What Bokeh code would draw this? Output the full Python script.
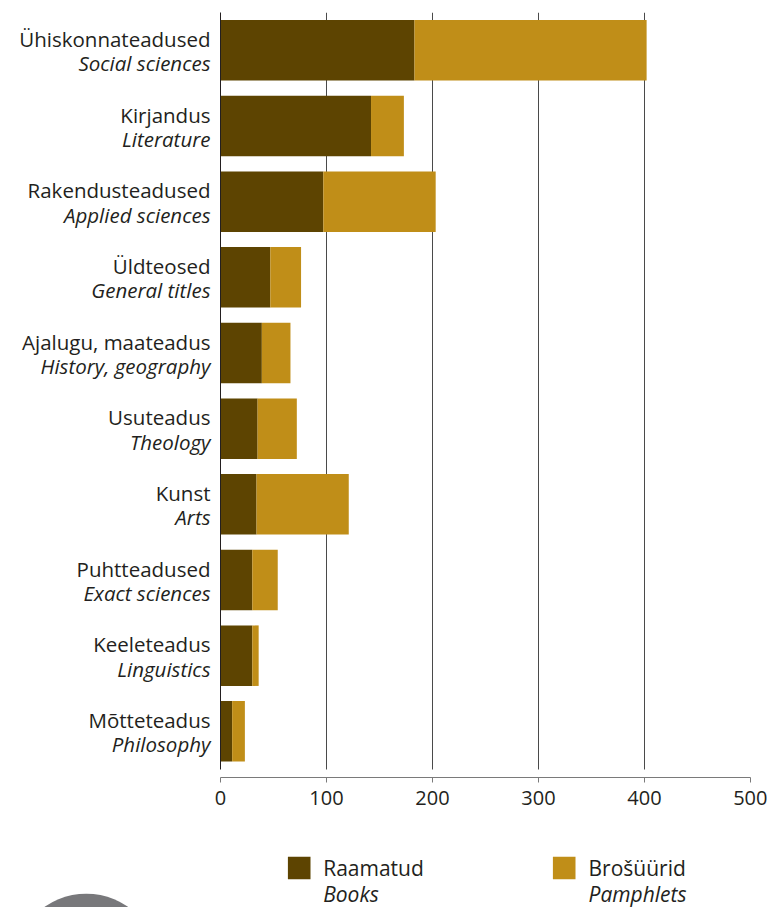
from bokeh.plotting import figure
from bokeh.models import ColumnDataSource, Range1d, FixedTicker
from bokeh.layouts import column, row
from bokeh.core.properties import value
from bokeh.embed import file_html
from bokeh.resources import INLINE

# ---- data ----
cats_et = ["Ühiskonnateadused", "Kirjandus", "Rakendusteadused", "Üldteosed",
           "Ajalugu, maateadus", "Usuteadus", "Kunst", "Puhtteadused",
           "Keeleteadus", "Mõtteteadus"]
cats_en = ["Social sciences", "Literature", "Applied sciences", "General titles",
           "History, geography", "Theology", "Arts", "Exact sciences",
           "Linguistics", "Philosophy"]
books = [183, 142, 97, 47, 39, 35, 34, 30, 30, 11]
pamphlets = [219, 31, 106, 29, 27, 37, 87, 24, 6, 12]
x_ticks = [0, 100, 200, 300, 400, 500]
legend_et = ["Raamatud", "Brošüürid"]
legend_en = ["Books", "Pamphlets"]

DARK = "#5d4401"
GOLD = "#c08e18"
TXT = "#231f20"
FONT = "Open Sans"

H_MAIN = 830
pos = list(range(len(cats_et)))
totals = [b + q for b, q in zip(books, pamphlets)]
src = ColumnDataSource(dict(y=pos, books=books, total=totals,
                            zero=[0] * len(pos)))
yr = Range1d(9.61, -0.5)

# ---- main chart ----
p = figure(width=555, height=H_MAIN, output_backend="svg", toolbar_location=None,
           x_range=Range1d(0, 500), y_range=yr,
           min_border_left=8, min_border_right=17, min_border_top=12,
           min_border_bottom=53)
p.outline_line_color = None

p.hbar(y="y", left="zero", right="books", height=0.8, source=src,
       fill_color=DARK, line_color=None)
p.hbar(y="y", left="books", right="total", height=0.8, source=src,
       fill_color=GOLD, line_color=None)

p.ygrid.visible = False
p.xgrid.ticker = FixedTicker(ticks=x_ticks[1:])
p.xgrid.grid_line_color = "#4a4a4a"
p.xgrid.grid_line_width = 1
p.xgrid.cross_bounds = (-0.5, 9.5)

xa = p.xaxis[0]
xa.ticker = FixedTicker(ticks=x_ticks)
xa.axis_line_color = "#7a7a7a"
xa.major_tick_line_color = "#7a7a7a"
xa.major_tick_out = 5
xa.major_tick_in = 0
xa.minor_tick_line_color = None
xa.major_label_text_font = FONT
xa.major_label_text_font_size = "20px"
xa.major_label_text_color = TXT
xa.major_label_standoff = 8

ya = p.yaxis[0]
ya.ticker = FixedTicker(ticks=[])
ya.bounds = (-0.5, 9.5)
ya.axis_line_color = TXT
ya.major_tick_line_color = None
ya.minor_tick_line_color = None
ya.major_label_standoff = 0

# ---- category labels panel ----
lab = figure(width=212, height=H_MAIN, output_backend="svg", toolbar_location=None,
             x_range=Range1d(0, 212), y_range=yr,
             min_border_left=0, min_border_right=0, min_border_top=12,
             min_border_bottom=53)
lab.axis.visible = False
lab.grid.visible = False
lab.outline_line_color = None
lsrc_c = ColumnDataSource(dict(y=pos, et=cats_et, en=cats_en,
                               x=[210] * len(pos)))
lab.text(x="x", y="y", text="et", source=lsrc_c, text_font=value(FONT),
         text_font_size="20.5px", text_color=TXT, text_align="right",
         text_baseline="alphabetic", y_offset=-11.5)
lab.text(x="x", y="y", text="en", source=lsrc_c, text_font=value(FONT),
         text_font_size="20.5px", text_color=TXT, text_align="right",
         text_baseline="alphabetic", y_offset=13, text_font_style="italic")

# ---- legend panel ----
lg = figure(width=767, height=77, output_backend="svg", toolbar_location=None,
            x_range=Range1d(0, 767), y_range=Range1d(77, 0),
            min_border_left=0, min_border_right=0,
            min_border_top=0, min_border_bottom=0)
lg.frame_align = False
lg.axis.visible = False
lg.grid.visible = False
lg.outline_line_color = None

lg.circle(x=[85.8], y=[136], radius=72.8, fill_color="#78787b", line_color=None)

lsrc = ColumnDataSource(dict(
    sx=[298.7, 563.7], sy=[37.5, 37.5], col=[DARK, GOLD],
    tx=[322.7, 588], et=legend_et, en=legend_en,
    ety=[37, 37], eny=[63, 63]))
lg.rect(x="sx", y="sy", width=22.6, height=22.6, fill_color="col",
        line_color=None, source=lsrc)
lg.text(x="tx", y="ety", text="et", source=lsrc, text_font=value(FONT),
        text_font_size="21px", text_color=TXT, text_baseline="alphabetic")
lg.text(x="tx", y="eny", text="en", source=lsrc, text_font=value(FONT),
        text_font_size="21px", text_color=TXT, text_baseline="alphabetic",
        text_font_style="italic")

layout = column(row(lab, p, spacing=0), lg, spacing=0)
open("out.html", "w").write(file_html(layout, INLINE))
